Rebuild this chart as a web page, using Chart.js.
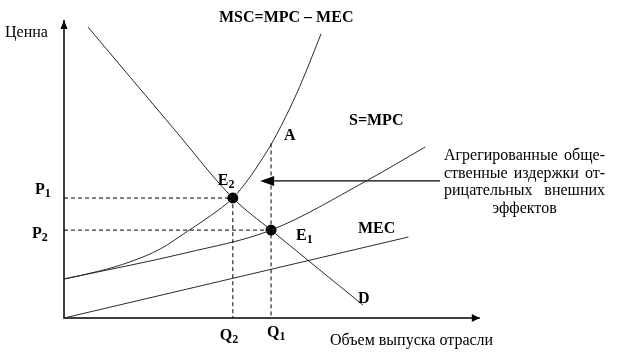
<!DOCTYPE html>
<html><head><meta charset="utf-8">
<script src="https://cdn.jsdelivr.net/npm/chart.js@4"></script>
<style>html,body{margin:0;padding:0;background:#fff}#wrap{width:618px;height:355px;position:relative}</style>
</head><body><div id="wrap"><canvas id="c" width="618" height="355"></canvas></div>
<script>
// ---- data (quantity Q, price P in abstract units 0..100) ----
const mecQ = [0, 82];
const mecP = [0, 27];
const mpcQ = [0, 29, 49.3, 72, 86];
const mpcP = [13, 21.7, 29.3, 45.7, 57];
const mscQ = [0, 8.6, 15.7, 22.9, 29.5, 34.8, 40.2, 44.3, 46.7, 49.5, 53.8, 56.9, 61.2];
const mscP = [13, 15.7, 18.7, 23, 29, 34, 40, 47, 52, 58.3, 70, 79.7, 94.7];
const dQ = [5.7, 26, 40.2, 49.3, 71.2];
const dP = [97, 63.3, 40, 29.3, 4.3];
const eqNames = ['E2', 'E1'];
const eqQ = [40.2, 49.3];
const eqP = [40, 29.3];
const pointA_P = 58.2;
const axisEnd = [99, 99.3];          // x-axis end (Q), y-axis end (P)
const noteArrowQ = [89.5, 46.7];     // arrow from .. to
const noteArrowP = 45.7;
const noteLines = ['Агрегированные обще-', 'ственные издержки от-', 'рицательных внешних', 'эффектов'];

const pts = (xs, ys) => xs.map((x, i) => ({x, y: ys[i]}));
const [Q2, Q1] = eqQ;
const [P1, P2] = eqP;

const SERIF = '"Liberation Serif","Times New Roman",serif';
const curve = (data) => ({data, showLine: true, borderColor: '#2a2a2a', borderWidth: 1, pointRadius: 0,
  cubicInterpolationMode: 'monotone', clip: false});
const dashed = (data) => ({data, showLine: true, borderColor: '#000', borderWidth: 1, borderDash: [4, 3],
  pointRadius: 0, tension: 0, clip: false});

const datasets = [
  dashed([{x: 0, y: P1}, {x: Q2, y: P1}, {x: Q2, y: 0}]),
  dashed([{x: 0, y: P2}, {x: Q1, y: P2}]),
  dashed([{x: Q1, y: pointA_P}, {x: Q1, y: 0}]),
  curve(pts(mecQ, mecP)),
  curve(pts(mpcQ, mpcP)),
  curve(pts(mscQ, mscP)),
  curve(pts(dQ, dP)),
  {data: [{x: 0, y: axisEnd[1]}, {x: 0, y: 0}, {x: axisEnd[0], y: 0}], showLine: true, borderColor: '#000',
    borderWidth: 1.5, pointRadius: 0, tension: 0, clip: false},
  {data: [{x: noteArrowQ[0], y: noteArrowP}, {x: noteArrowQ[1] + 2, y: noteArrowP}], showLine: true,
    borderColor: '#000', borderWidth: 1.3, pointRadius: 0, tension: 0, clip: false},
  {data: pts(eqQ, eqP), showLine: false, pointRadius: 5, pointBackgroundColor: '#000', pointBorderColor: '#000', clip: false}
];

function tri(ctx, x, y, dir, len, half) {
  ctx.beginPath();
  if (dir === 'up') { ctx.moveTo(x, y); ctx.lineTo(x - half, y + len); ctx.lineTo(x + half, y + len); }
  if (dir === 'right') { ctx.moveTo(x, y); ctx.lineTo(x - len, y - half); ctx.lineTo(x - len, y + half); }
  if (dir === 'left') { ctx.moveTo(x, y); ctx.lineTo(x + len, y - half); ctx.lineTo(x + len, y + half); }
  ctx.closePath(); ctx.fill();
}
function sub(ctx, main, s, x, y, size) {
  ctx.font = 'bold ' + size + 'px ' + SERIF;
  ctx.fillText(main, x, y);
  const w = ctx.measureText(main).width;
  ctx.font = 'bold ' + Math.round(size * 0.72) + 'px ' + SERIF;
  ctx.fillText(s, x + w, y + 3);
}
function justify(ctx, text, left, right, y) {
  const words = text.split(' ');
  if (words.length === 1) { ctx.textAlign = 'center'; ctx.fillText(text, (left + right) / 2, y); ctx.textAlign = 'left'; return; }
  const tw = words.reduce((s, w) => s + ctx.measureText(w).width, 0);
  const gap = (right - left - tw) / (words.length - 1);
  let x = left;
  words.forEach(w => { ctx.fillText(w, x, y); x += ctx.measureText(w).width + gap; });
}

const decor = {
  id: 'decor',
  afterDatasetsDraw(chart) {
    const ctx = chart.ctx, xs = chart.scales.x, ys = chart.scales.y;
    const X = v => xs.getPixelForValue(v), Y = v => ys.getPixelForValue(v);
    ctx.save();
    ctx.fillStyle = '#000';
    tri(ctx, X(0), Y(axisEnd[1]), 'up', 9, 3.5);
    tri(ctx, X(axisEnd[0]), Y(0), 'right', 8, 4);
    tri(ctx, X(noteArrowQ[1]), Y(noteArrowP), 'left', 14, 5);
    ctx.textBaseline = 'alphabetic'; ctx.textAlign = 'left';
    ctx.font = '16px ' + SERIF;
    ctx.fillText('Ценна', 5, 37);
    ctx.fillText('Объем выпуска отрасли', 330, 345);
    noteLines.forEach((t, i) => justify(ctx, t, 444, 605, 160 + i * 17.5));
    ctx.font = 'bold 16px ' + SERIF;
    ctx.fillText('MSC=MPC – MEC', 219, 22);
    ctx.fillText('A', X(Q1) + 13, Y(pointA_P) - 3);
    ctx.fillText('S=MPC', 349, 125);
    ctx.fillText('MEC', 358, 233);
    ctx.fillText('D', X(dQ[dQ.length - 1]) - 5, Y(dP[dP.length - 1]) - 2);
    sub(ctx, 'P', '1', 35, Y(P1) - 4, 16);
    sub(ctx, 'P', '2', 32, Y(P2) + 8, 16);
    sub(ctx, 'E', '2', X(Q2) - 15, Y(P1) - 13, 16);
    sub(ctx, 'E', '1', X(Q1) + 25, Y(P2) + 10, 16);
    sub(ctx, 'Q', '2', X(Q2) - 13, 340, 16);
    sub(ctx, 'Q', '1', X(Q1) - 4, 337, 16);
    ctx.restore();
  }
};

new Chart(document.getElementById('c'), {
  type: 'scatter',
  data: {datasets},
  options: {
    responsive: false, animation: false, devicePixelRatio: 1,
    layout: {padding: {left: 64, top: 18, right: 134, bottom: 37}},
    plugins: {legend: {display: false}, tooltip: {enabled: false}},
    scales: {
      x: {type: 'linear', min: 0, max: 100, display: false},
      y: {type: 'linear', min: 0, max: 100, display: false}
    }
  },
  plugins: [decor]
});
</script></body></html>
